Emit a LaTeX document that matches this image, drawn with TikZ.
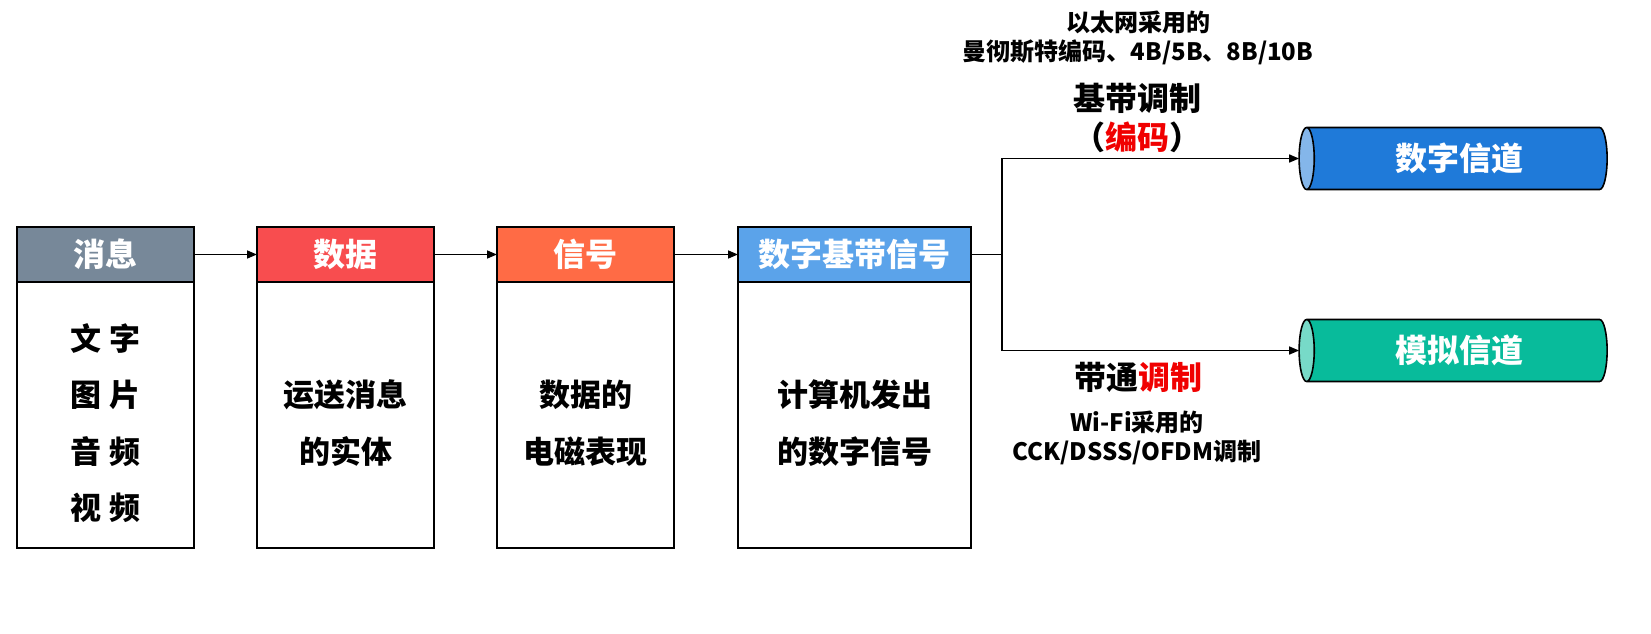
\documentclass[tikz,border=0pt]{standalone}
\usepackage{fontspec}
\setmainfont{Noto Sans CJK SC}
\usepackage{xcolor}
\usepackage{tikz}
\usetikzlibrary{arrows.meta,shapes.geometric,positioning}
\definecolor{gris}{HTML}{778899}
\definecolor{rojo}{HTML}{F84D4F}
\definecolor{naranja}{HTML}{FF6B45}
\definecolor{celeste}{HTML}{5BA3EA}
\definecolor{azul}{HTML}{1F7AD9}
\definecolor{verde}{HTML}{08BB9B}
\definecolor{resalte}{HTML}{F00000}
\tikzset{
  head/.style={draw=black,line width=1.6pt,outer sep=0pt,inner sep=0pt,minimum height=55pt,
    text=white,font=\bfseries\fontsize{32}{32}\selectfont},
  body/.style={draw=black,line width=1.6pt,outer sep=0pt,inner sep=0pt,minimum height=266pt},
  txt/.style={align=center,font=\bfseries\fontsize{31}{56.5}\selectfont},
  canal/.style={cylinder,shape border rotate=180,shape aspect=0.4,draw=black,line width=1.6pt,
    outer sep=0pt,minimum width=62pt,minimum height=308pt,cylinder uses custom fill,
    text=white,font=\bfseries\fontsize{32}{32}\selectfont},
  nota/.style={align=center,font=\bfseries\fontsize{24}{29}\selectfont},
  flecha/.style={-{Triangle[length=10pt,width=8pt]},line width=1.6pt}
}
\begin{document}
\begin{tikzpicture}[x=1pt,y=-1pt]
\useasboundingbox (0,0) rectangle (1651,633);
% cuatro cajas
\node[head,fill=gris,minimum width=177pt] (hdr1) at (105.5,254.5) {消息};
\node[body,minimum width=177pt,below=0pt of hdr1] (bod1) {};
\node[txt] (txt1) at ([yshift=-8pt]bod1.center) {文 字\\图 片\\音 频\\视 频};
\node[head,fill=rojo,minimum width=177pt] (hdr2) at (345.5,254.5) {数据};
\node[body,minimum width=177pt,below=0pt of hdr2] (bod2) {};
\node[txt] (txt2) at ([yshift=-8pt]bod2.center) {运送消息\\的实体};
\node[head,fill=naranja,minimum width=177pt] (hdr3) at (585.5,254.5) {信号};
\node[body,minimum width=177pt,below=0pt of hdr3] (bod3) {};
\node[txt] (txt3) at ([yshift=-8pt]bod3.center) {数据的\\电磁表现};
\node[head,fill=celeste,minimum width=233pt] (hdr4) at (854.5,254.5) {数字基带信号};
\node[body,minimum width=233pt,below=0pt of hdr4] (bod4) {};
\node[txt] (txt4) at ([yshift=-8pt]bod4.center) {计算机发出\\的数字信号};
% canales
\node[canal,cylinder body fill=azul,cylinder end fill=azul!55!white] (ch1) at (1459,158.5) {数字信道};
\node[canal,cylinder body fill=verde,cylinder end fill=verde!55!white] (ch2) at (1459,350.5) {模拟信道};
% textos
\node[nota] (lblA) at (1138,37.5) {以太网采用的\\曼彻斯特编码、4B/5B、8B/10B};
\node[align=center,font=\bfseries\fontsize{32}{39}\selectfont] (lblB) at (1137,117.5) {基带调制\\（\textcolor{resalte}{编码}）};
\node[font=\bfseries\fontsize{32}{32}\selectfont] (lblC) at (1138,377) {带通\textcolor{resalte}{调制}};
\node[nota] (lblD) at (1137,437.5) {Wi-Fi采用的\\CCK/DSSS/OFDM调制};
% conexiones
\coordinate (fork) at (1002,254.5);
\draw[flecha] (hdr1) -- (hdr2);
\draw[flecha] (hdr2) -- (hdr3);
\draw[flecha] (hdr3) -- (hdr4);
\draw[line width=1.6pt] (hdr4.east) -- (fork);
\draw[flecha] (fork) |- (ch1.west);
\draw[flecha] (fork) |- (ch2.west);
\end{tikzpicture}
\end{document}
